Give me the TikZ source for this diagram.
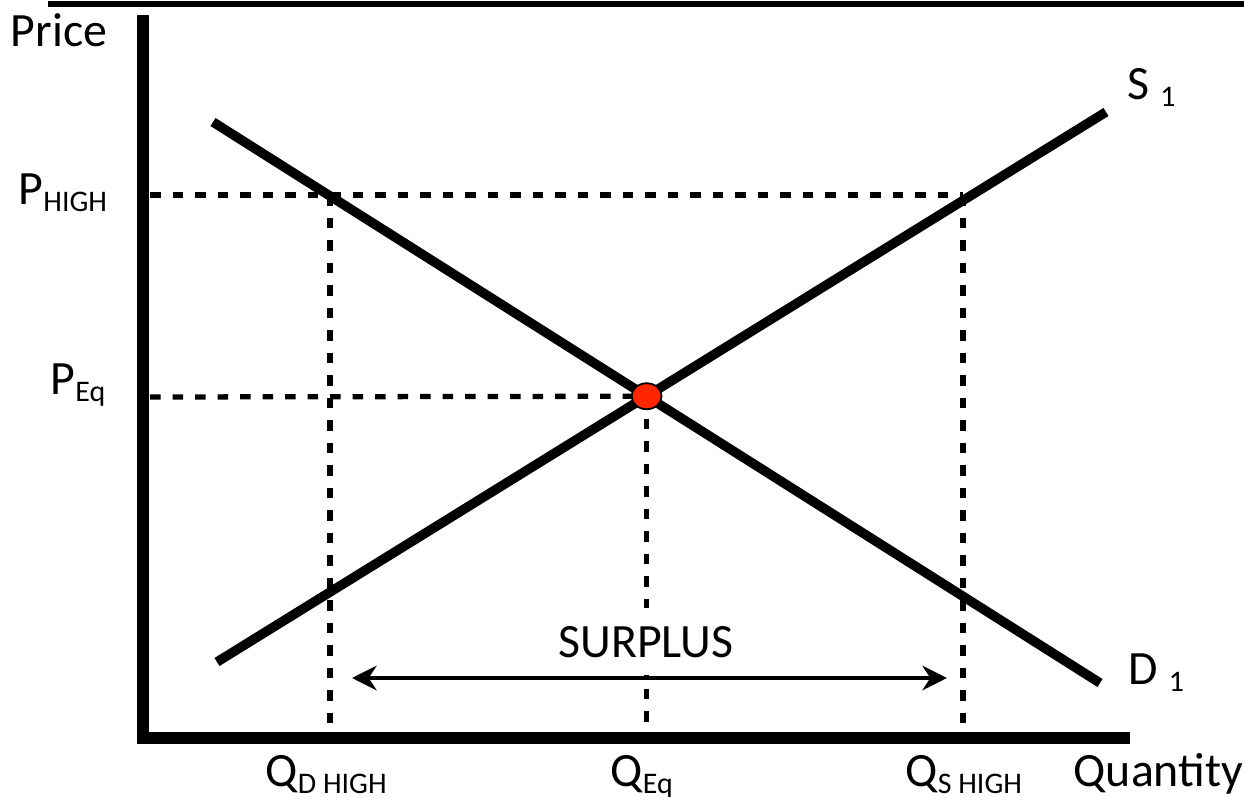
\documentclass[tikz,border=0pt]{standalone}
\usepackage{fontspec}
\setmainfont{Carlito}
\usepackage{xcolor}
\definecolor{EqRed}{RGB}{255,38,0}
\usetikzlibrary{arrows.meta, shapes.geometric}
\newcommand{\lowsub}[1]{\raisebox{-0.3ex}{\fontsize{8.5}{8.5}\selectfont #1}}

\begin{document}
\begin{tikzpicture}[x=0.01cm, y=-0.01cm,
    curve/.style={line width=2.7pt},
    guide/.style={line width=1.5pt, dash pattern=on 3pt off 3.4pt},
    lbl/.style={inner sep=0pt, anchor=base west, font=\fontsize{13.6}{14}\selectfont},
    eqdot/.style={ellipse, draw, line width=0.5pt, fill=EqRed, inner sep=0pt,
                  minimum width=0.3cm, minimum height=0.26cm}]
  \useasboundingbox (0,0) rectangle (1244,797);
  % Marco superior
  \coordinate (topL) at (48,4);
  \coordinate (topR) at (1244,4);
  \draw[line width=1.7pt] (topL) -- (topR);
  % Ejes
  \coordinate (ytop) at (143,15);
  \coordinate (ybot) at (143,744);
  \coordinate (xbeg) at (137,738);
  \coordinate (xend) at (1130,738);
  \draw[line width=3.6pt] (ytop) -- (ybot);
  \draw[line width=3.2pt] (xbeg) -- (xend);
  % Oferta y demanda
  \coordinate (d0) at (213,122);
  \coordinate (d1) at (1100,683);
  \coordinate (s0) at (217,662);
  \coordinate (s1) at (1106,112);
  \draw[curve] (d0) -- (d1);
  \draw[curve] (s0) -- (s1);
  \coordinate (eq) at (intersection of d0--d1 and s0--s1);
  % Guías punteadas
  \coordinate (ph) at (150,195);
  \coordinate (qdh) at (330,195);
  \coordinate (qsh) at (963,195);
  \coordinate (pe) at (150,397);
  \coordinate (floor) at (150,733);
  \draw[guide] (ph) -- (qsh);
  \draw[guide] (pe) -- (eq);
  \draw[guide] (qdh) -- (qdh |- floor);
  \draw[guide] (qsh) -- (qsh |- floor);
  \draw[guide] (eq) -- (eq |- floor);
  \node[eqdot] (dot) at (eq) {};
  % Excedente
  \node[lbl, anchor=base, fill=white, inner xsep=3pt, inner ysep=5pt] (surplus) at (646,657) {SURPLUS};
  \coordinate (arL) at (352,678);
  \coordinate (arR) at (947,678);
  \draw[line width=1.3pt, {Stealth[length=7pt, width=7pt]}-{Stealth[length=7pt, width=7pt]}] (arL) -- (arR);
  % Rótulos
  \node[lbl] (price) at (10,47) {Price};
  \node[lbl] (phighlbl) at (18,205) {P\lowsub{HIGH}};
  \node[lbl] (peqlbl) at (50,395) {P\lowsub{Eq}};
  \node[lbl] (slbl) at (1127,100) {S \lowsub{1}};
  \node[lbl] (dlbl) at (1128,685) {D \lowsub{1}};
  \node[lbl] (qdlbl) at (265,787) {Q\lowsub{D HIGH}};
  \node[lbl] (qeqlbl) at (610,787) {Q\lowsub{Eq}};
  \node[lbl] (qslbl) at (905,787) {Q\lowsub{S HIGH}};
  \node[lbl] (qty) at (1073,787) {Quantity};
\end{tikzpicture}
\end{document}
